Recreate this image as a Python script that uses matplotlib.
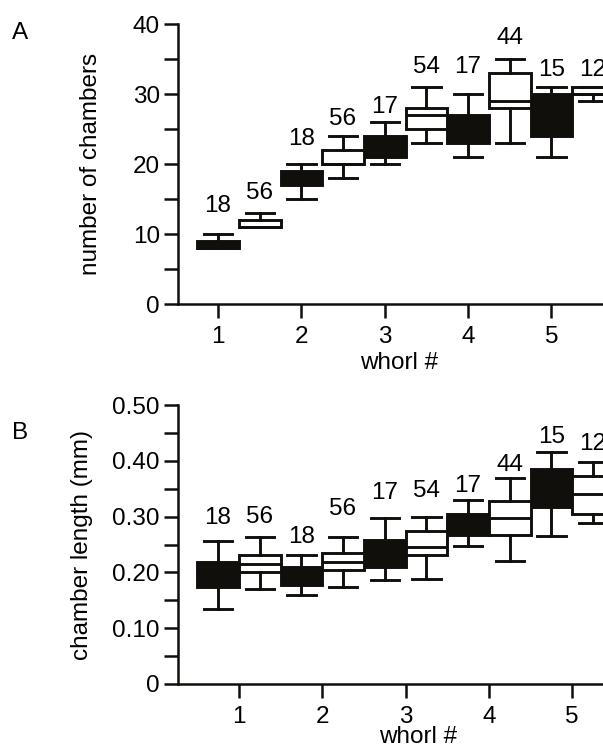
import matplotlib.pyplot as plt

plt.rcParams['font.family'] = ['Liberation Sans', 'DejaVu Sans']

whorls = [1, 2, 3, 4, 5]
n_black = [18, 18, 17, 17, 15]
n_white = [56, 56, 54, 44, 12]

# (whislo, q1, med, q3, whishi)
chambers_black = [
    (8, 8, 8, 9, 10),
    (15, 17, 18, 19, 20),
    (20, 21, 22.5, 24, 26),
    (21, 23, 25, 27, 30),
    (21, 24, 27, 30, 31),
]
chambers_white = [
    (11, 11, 11, 12, 13),
    (18, 20, 20, 22, 24),
    (23, 25, 27, 28, 31),
    (23, 28, 29, 33, 35),
    (29, 30, 30, 31, 31),
]
length_black = [
    (0.135, 0.173, 0.195, 0.219, 0.256),
    (0.159, 0.177, 0.195, 0.210, 0.231),
    (0.186, 0.210, 0.235, 0.258, 0.297),
    (0.248, 0.267, 0.285, 0.304, 0.330),
    (0.266, 0.318, 0.350, 0.385, 0.416),
]
length_white = [
    (0.170, 0.200, 0.215, 0.231, 0.263),
    (0.174, 0.204, 0.219, 0.234, 0.263),
    (0.188, 0.231, 0.246, 0.274, 0.300),
    (0.220, 0.267, 0.298, 0.328, 0.370),
    (0.289, 0.305, 0.341, 0.372, 0.398),
]

# heights of the n labels (layout only)
lab_a_black = [14.0, 23.6, 28.1, 33.8, 33.5]
lab_a_white = [15.8, 26.4, 33.9, 38.0, 33.5]
lab_b_black = [0.297, 0.264, 0.343, 0.355, 0.443]
lab_b_white = [0.299, 0.313, 0.346, 0.392, 0.431]

FS = 17.5
DARK = '#100f0b'
LW = 2.1


def to_stats(rows):
    return [dict(whislo=r[0], q1=r[1], med=r[2], q3=r[3], whishi=r[4]) for r in rows]


def draw_boxes(ax, rows, pos, face):
    ax.bxp(to_stats(rows), positions=pos, widths=0.5, capwidths=0.34,
           showfliers=False, patch_artist=True,
           boxprops=dict(facecolor=face, edgecolor=DARK, linewidth=LW),
           medianprops=dict(color=DARK, linewidth=LW),
           whiskerprops=dict(color=DARK, linewidth=LW),
           capprops=dict(color=DARK, linewidth=LW),
           manage_ticks=False)


def panel(ax, black, white, lab_black, lab_white):
    pos_b = [w - 0.25 for w in whorls]
    pos_w = [w + 0.25 for w in whorls]
    draw_boxes(ax, black, pos_b, DARK)
    draw_boxes(ax, white, pos_w, 'white')
    for x, y, n in zip(pos_b, lab_black, n_black):
        ax.text(x, y, str(n), ha='center', va='center', fontsize=FS, clip_on=False)
    for x, y, n in zip(pos_w, lab_white, n_white):
        ax.text(x, y, str(n), ha='center', va='center', fontsize=FS, clip_on=False)
    ax.set_xlim(0.27, 5.37)
    for s in ['top', 'right']:
        ax.spines[s].set_visible(False)
    for s in ['left', 'bottom']:
        ax.spines[s].set_linewidth(1.8)
        ax.spines[s].set_color(DARK)
    ax.tick_params(direction='out', length=10, width=1.8, color=DARK,
                   labelsize=FS, pad=3)
    ax.tick_params(axis='x', pad=6)


fig = plt.figure(figsize=(6.03, 7.48), dpi=100)
ax1 = fig.add_axes([178 / 603, 1 - 304 / 748, 425 / 603, 280 / 748])
ax2 = fig.add_axes([178 / 603, 1 - 684 / 748, 425 / 603, 279 / 748])

# A
panel(ax1, chambers_black, chambers_white, lab_a_black, lab_a_white)
ax1.set_ylim(0, 40)
ax1.set_yticks(range(0, 41, 5))
ax1.set_yticklabels([str(v) if v % 10 == 0 else '' for v in range(0, 41, 5)])
ax1.set_xticks([w - 0.25 for w in whorls])
ax1.set_xticklabels([str(w) for w in whorls])
ax1.set_ylabel('number of chambers', fontsize=FS)
ax1.yaxis.set_label_coords(-0.205, 0.5)
ax1.yaxis.label.set_va('center')
ax1.set_xlabel('whorl #', fontsize=FS)
ax1.xaxis.set_label_coords(0.52, -0.212)
ax1.xaxis.label.set_va('center')

# B
panel(ax2, length_black, length_white, lab_b_black, lab_b_white)
ax2.set_ylim(0, 0.5)
yt = [i * 0.05 for i in range(11)]
ax2.set_yticks(yt)
ax2.set_yticklabels(['0' if i == 0 else ('%.2f' % v if i % 2 == 0 else '')
                     for i, v in enumerate(yt)])
ax2.set_xticks(whorls)
ax2.set_xticklabels([str(w) for w in whorls])
ax2.set_ylabel('chamber length (mm)', fontsize=FS)
ax2.yaxis.set_label_coords(-0.225, 0.5)
ax2.yaxis.label.set_va('center')
ax2.set_xlabel('whorl #', fontsize=FS)
ax2.xaxis.set_label_coords(0.565, -0.19)
ax2.xaxis.label.set_va('center')

fig.text(12 / 603, 1 - 33 / 748, 'A', fontsize=FS, ha='left', va='center')
fig.text(12 / 603, 1 - 433 / 748, 'B', fontsize=FS, ha='left', va='center')

fig.savefig('out.png', dpi=100)
